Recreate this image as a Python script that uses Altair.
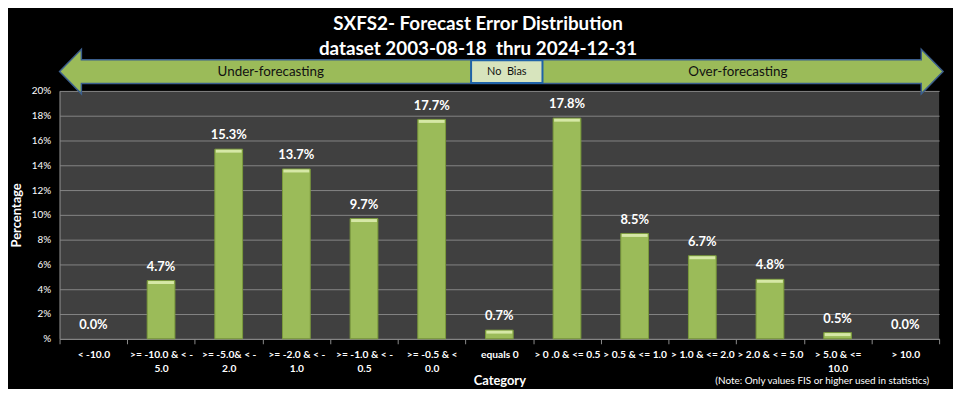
import altair as alt
import pandas as pd

# ---- data -------------------------------------------------------------
categories = [
    "< -10.0",
    ">= -10.0 & < -|5.0",
    ">= -5.0& < -|2.0",
    ">= -2.0 & < -|1.0",
    ">= -1.0 & < -|0.5",
    ">= -0.5 & <|0.0",
    "equals 0",
    "> 0 .0 & <= 0.5",
    "> 0.5 & <= 1.0",
    "> 1.0 & <= 2.0",
    "> 2.0 & < = 5.0",
    "> 5.0 & <=|10.0",
    "> 10.0",
]
percentages = [0.0, 4.7, 15.3, 13.7, 9.7, 17.7, 0.7, 17.8, 8.5, 6.7, 4.8, 0.5, 0.0]
y_ticks = [0, 2, 4, 6, 8, 10, 12, 14, 16, 18, 20]

title_lines = ["SXFS2- Forecast Error Distribution", "dataset 2003-08-18 \u00a0thru 2024-12-31"]
band_labels = ["Under-forecasting", "No \u00a0Bias", "Over-forecasting"]
note_text = "(Note: Only values FIS or higher used in statistics)"
x_title = "Category"
y_title = "Percentage"

df = pd.DataFrame({"category": categories, "pct": percentages})

FONT = "Lato"
W, H = 887, 250

xenc = alt.X(
    "category:N",
    sort=categories,
    scale=alt.Scale(domain=categories, paddingInner=0, paddingOuter=0),
    axis=alt.Axis(
        title=x_title,
        labelExpr="split(datum.label, '|')",
        labelAngle=0,
        labelFont=FONT,
        labelFontSize=10.3,
        labelFontWeight="bold",
        labelColor="white",
        labelLineHeight=14,
        labelPadding=6,
        tickBand="extent",
        tickSize=5,
        tickColor="#8c8c8c",
        domainColor="#8c8c8c",
        grid=False,
        titleFont=FONT,
        titleFontSize=13,
        titleFontWeight="bold",
        titleColor="white",
        titleY=42,
        titleBaseline="middle",
    ),
)
yenc = alt.Y(
    "pct:Q",
    scale=alt.Scale(domain=[0, 20], nice=False),
    axis=alt.Axis(
        title=y_title,
        values=y_ticks,
        labelExpr="datum.value == 0 ? '%' : datum.value + '%'",
        labelFont=FONT,
        labelFontSize=10,
        labelColor="white",
        labelPadding=9,
        labelOverlap=False,
        ticks=False,
        domainColor="#8c8c8c",
        gridColor="#858585",
        gridWidth=1,
        titleFont=FONT,
        titleFontSize=13,
        titleFontWeight="bold",
        titleColor="white",
        titleX=-43,
        titleY=125,
        titleAngle=270,
        titleBaseline="middle",
        titleAlign="center",
    ),
)

base = alt.Chart(df)

bars = (
    base.transform_filter("datum.pct > 0")
    .mark_bar(width=alt.RelativeBandSize(0.41), color="#9BBB59", stroke="#7A9A3C", strokeWidth=1)
    .encode(x=xenc, y=yenc)
)
bevel = (
    base.transform_filter("datum.pct > 0")
    .mark_tick(size=26, thickness=3, color="#D6E8A6", yOffset=2, opacity=1)
    .encode(x=xenc, y=yenc)
)
values_txt = (
    base.transform_calculate(lbl="format(datum.pct, '.1f') + '%'")
    .mark_text(font=FONT, fontSize=13, fontWeight="bold", color="white", baseline="bottom", dy=-7)
    .encode(x=xenc, y=yenc, text="lbl:N")
)

one = alt.Data(values=[{"k": 1}])

arrow_path = (
    "M-1,0L-0.9506,-0.0505L-0.9506,-0.0269L0.9506,-0.0269L0.9506,-0.0505L1,0"
    "L0.9506,0.0505L0.9506,0.0269L-0.9506,0.0269L-0.9506,0.0505Z"
)
arrow = alt.Chart(one).mark_point(
    shape=arrow_path, filled=True, fill="#9BBB59", stroke="#3B5E8C", strokeWidth=1.5,
    size=891 * 891, opacity=1, fillOpacity=1, strokeOpacity=1,
).encode(x=alt.value(445.5), y=alt.value(-19.5))

nobias_box = alt.Chart(one).mark_rect(fill="#D7E4BD", stroke="#1F62A8", strokeWidth=2).encode(
    x=alt.value(415), x2=alt.value(487), y=alt.value(-31), y2=alt.value(-8)
)

def label_at(text, x, y, size, weight="normal", color="white", align="center", font=FONT):
    return alt.Chart(one).mark_text(
        text=text, font=font, fontSize=size, fontWeight=weight, color=color,
        align=align, baseline="middle",
    ).encode(x=alt.value(x), y=alt.value(y))

under_lbl = label_at(band_labels[0], 213, -19.5, 13.5, color="#111111")
nobias_lbl = label_at(band_labels[1], 451, -19.5, 11, color="#111111")
over_lbl = label_at(band_labels[2], 684, -19.5, 13.5, color="#111111")
title1 = label_at(title_lines[0], 422, -67, 19, weight="bold")
title2 = label_at(title_lines[1], 422, -42, 19, weight="bold")
note = label_at(note_text, 877, 293, 10, align="right")

chart = (
    alt.layer(
        bars, bevel, values_txt, arrow, nobias_box, under_lbl, nobias_lbl, over_lbl,
        title1, title2, note,
    )
    .properties(
        width=W,
        height=H,
        autosize=alt.AutoSizeParams(type="none"),
        padding={"left": 52, "top": 82, "right": 14, "bottom": 49},
        background="black",
    )
    .configure_view(fill="#404040", strokeWidth=0)
)

chart.save("out.html", embed_options={"renderer": "svg", "actions": False})
